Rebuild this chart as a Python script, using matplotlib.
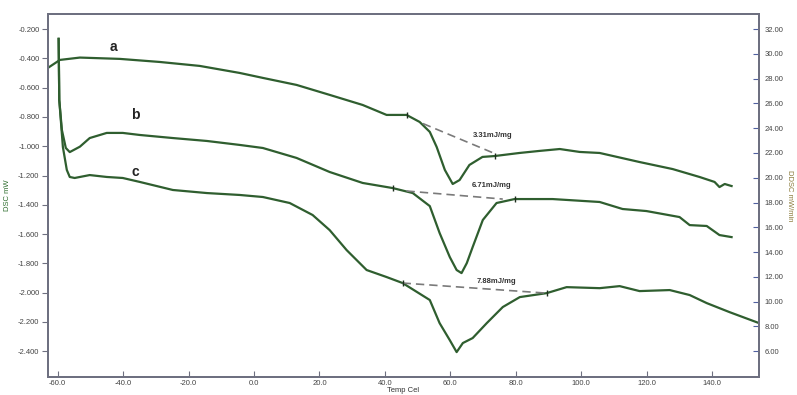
import matplotlib
matplotlib.use('Agg')
import matplotlib.pyplot as plt
import matplotlib.ticker as ticker

# values (Temp Cel, DSC mW)
a_temp = [-63.0, -59.3, -53.2, -41.0, -28.8, -16.6, -4.4, 2.7, 13.0, 23.1, 33.2, 40.5, 46.6, 50.6,
          53.7, 55.8, 58.3, 60.7, 62.8, 65.8, 69.8, 73.5, 81.1, 87.2, 93.4, 99.5, 105.6, 117.8,
          127.9, 136.1, 140.7, 142.2, 143.8, 145.9]
a_dsc = [-0.465, -0.410, -0.394, -0.403, -0.424, -0.451, -0.499, -0.533, -0.581, -0.649, -0.718,
         -0.786, -0.786, -0.834, -0.902, -1.005, -1.162, -1.258, -1.231, -1.128, -1.073, -1.067,
         -1.046, -1.032, -1.019, -1.039, -1.046, -1.108, -1.156, -1.210, -1.244, -1.279, -1.258,
         -1.272]

b_temp = [-59.7, -59.5, -58.7, -57.5, -56.3, -53.2, -50.2, -45.0, -40.1, -34.9, -24.8, -14.4,
          -4.4, 2.7, 13.0, 23.1, 33.2, 42.4, 48.5, 53.7, 56.7, 59.8, 61.9, 63.4, 65.0, 66.8, 69.9,
          74.1, 79.6, 91.2, 105.6, 112.6, 119.9, 130.0, 133.1, 138.3, 142.2, 145.9]
b_dsc = [-0.266, -0.684, -0.889, -1.012, -1.040, -1.003, -0.944, -0.909, -0.909, -0.923, -0.944,
         -0.964, -0.991, -1.012, -1.080, -1.176, -1.251, -1.286, -1.320, -1.409, -1.593, -1.757,
         -1.846, -1.867, -1.799, -1.689, -1.504, -1.388, -1.361, -1.361, -1.381, -1.429, -1.443,
         -1.484, -1.539, -1.545, -1.607, -1.621]

c_temp = [-59.7, -59.5, -58.4, -57.2, -56.3, -54.8, -50.2, -45.0, -40.1, -34.9, -24.8, -14.4,
          -4.4, 2.7, 10.9, 17.9, 23.1, 28.3, 34.4, 40.5, 45.4, 53.7, 56.7, 59.8, 61.9, 63.8, 66.8,
          71.1, 76.0, 81.2, 89.4, 95.5, 105.6, 111.7, 117.8, 127.0, 133.1, 138.3, 145.3, 154.2]
c_dsc = [-0.266, -0.684, -1.005, -1.162, -1.210, -1.217, -1.197, -1.210, -1.217, -1.244, -1.299,
         -1.320, -1.333, -1.347, -1.388, -1.470, -1.573, -1.710, -1.846, -1.894, -1.935, -2.051,
         -2.209, -2.325, -2.407, -2.345, -2.311, -2.209, -2.099, -2.031, -2.004, -1.963, -1.970,
         -1.956, -1.990, -1.983, -2.017, -2.072, -2.134, -2.208]

# integration baselines (start, end) and enthalpy labels
base_temp = [(51.6, 72.9), (46.6, 76.0), (45.4, 89.4)]
base_dsc = [(-0.845, -1.044), (-1.306, -1.361), (-1.935, -2.004)]
marks_temp = [(46.6, 73.5), (42.4, 79.6), (45.4, 89.4)]
marks_dsc = [(-0.786, -1.067), (-1.286, -1.361), (-1.935, -2.004)]
enthalpy = ['3.31mJ/mg', '6.71mJ/mg', '7.88mJ/mg']
enth_pos = [(73.0, -0.924), (72.7, -1.266), (74.2, -1.922)]
curve_names = ['a', 'b', 'c']
name_pos = [(-43.1, -0.322), (-36.4, -0.787), (-36.4, -1.176)]

left_ticks = [-0.2, -0.4, -0.6, -0.8, -1.0, -1.2, -1.4, -1.6, -1.8, -2.0, -2.2, -2.4]
right_ticks = [6, 8, 10, 12, 14, 16, 18, 20, 22, 24, 26, 28, 30, 32]
x_ticks = [-60, -40, -20, 0, 20, 40, 60, 80, 100, 120, 140]

plt.rcParams['font.family'] = ['Liberation Sans', 'DejaVu Sans']

fig = plt.figure(figsize=(7.97, 3.95), dpi=100)
ax = fig.add_axes([0.060, 0.046, 0.892, 0.919])

green = '#2f5e2f'
spine = '#6e7080'
for t, d in [(a_temp, a_dsc), (b_temp, b_dsc), (c_temp, c_dsc)]:
    ax.plot(t, d, color=green, linewidth=1.6, solid_joinstyle='round')

for (t0, t1), (d0, d1) in zip(base_temp, base_dsc):
    ax.plot([t0, t1], [d0, d1], color='#7a7a7a', linewidth=1.2, dashes=(5, 3))
for t, d in zip(marks_temp, marks_dsc):
    ax.plot(t, d, linestyle='none', marker='|', markersize=4, color='#1e2e1e', markeredgewidth=1)

for txt, (x, y) in zip(enthalpy, enth_pos):
    ax.text(x, y, txt, fontsize=5.5, fontweight='bold', color='#333333', ha='center', va='center')
for txt, (x, y) in zip(curve_names, name_pos):
    ax.text(x, y, txt, fontsize=10, fontweight='bold', color='#222222', ha='center', va='center')

ax.set_xlim(-63.0, 154.2)
ax.set_ylim(-2.576, -0.095)
ax.xaxis.set_major_locator(ticker.FixedLocator(x_ticks))
ax.xaxis.set_major_formatter(ticker.FormatStrFormatter('%.1f'))
ax.yaxis.set_major_locator(ticker.FixedLocator(left_ticks))
ax.yaxis.set_major_formatter(ticker.FormatStrFormatter('%.3f'))
ax.tick_params(axis='x', direction='in', length=4, labelsize=5.5, labelcolor='#444444',
               color=spine, pad=2)
ax.tick_params(axis='y', direction='out', length=4, labelsize=5.5, labelcolor='#444444',
               color=spine, pad=2)
ax.set_xlabel('Temp Cel', fontsize=5.5, color='#333333', labelpad=0)
ax.set_ylabel('DSC mW', fontsize=5.5, color='#2f6e2f', labelpad=5)

ax2 = ax.twinx()
ax2.set_ylim(32 + (-2.576 + 0.2) * 26 / 2.2, 32 + (-0.095 + 0.2) * 26 / 2.2)
ax2.yaxis.set_major_locator(ticker.FixedLocator(right_ticks))
ax2.yaxis.set_major_formatter(ticker.FormatStrFormatter('%.2f'))
ax2.tick_params(axis='y', direction='in', length=4, labelsize=5.5, labelcolor='#444444',
                color='#5060a0', pad=4)
ax2.set_ylabel('DDSC mW/min', fontsize=5.5, color='#8a7a3a', rotation=270, labelpad=7)

for a_ in (ax, ax2):
    for s in a_.spines.values():
        s.set_color(spine)
        s.set_linewidth(1.4)

fig.savefig('out.png', dpi=100)
